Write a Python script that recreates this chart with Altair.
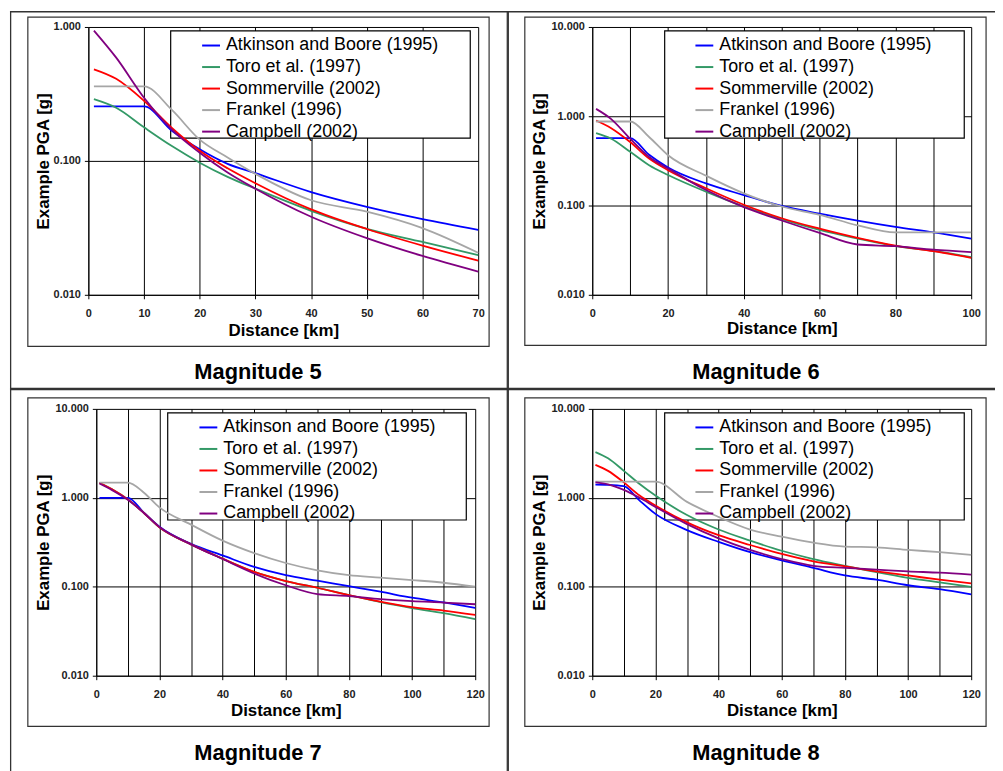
import altair as alt
import pandas as pd

FONT = "Liberation Sans"

SERIES = ["Atkinson and Boore (1995)", "Toro et al. (1997)", "Sommerville (2002)",
          "Frankel (1996)", "Campbell (2002)"]
COLORS = ["#0000FF", "#339966", "#FF0000", "#A6A6A6", "#800080"]

# ---------------- Magnitude 5 ----------------
M5_DIST = [1, 5, 10, 15, 20, 25, 30, 40, 50, 60, 70]
M5_ATKINSON = [0.255, 0.255, 0.255, 0.168, 0.122, 0.095, 0.081, 0.0585, 0.0454, 0.0368, 0.0306]
M5_TORO = [0.289, 0.249, 0.178, 0.129, 0.097, 0.076, 0.062, 0.0424, 0.0311, 0.0248, 0.0198]
M5_SOMMERVILLE = [0.483, 0.41, 0.281, 0.176, 0.119, 0.088, 0.068, 0.0434, 0.031, 0.0233, 0.018]
M5_FRANKEL = [0.36, 0.36, 0.36, 0.24, 0.144, 0.106, 0.080, 0.0508, 0.0418, 0.0315, 0.0206]
M5_CAMPBELL = [0.94, 0.59, 0.296, 0.171, 0.115, 0.082, 0.062, 0.0383, 0.0265, 0.0195, 0.0149]

# ---------------- Magnitude 6 ----------------
M6_DIST = [1, 5, 10, 15, 20, 30, 40, 50, 60, 70, 80, 90, 100]
M6_ATKINSON = [0.57, 0.57, 0.57, 0.37, 0.267, 0.177, 0.131, 0.099, 0.081, 0.0676, 0.0575, 0.050, 0.0426]
M6_TORO = [0.647, 0.56, 0.40, 0.283, 0.22, 0.143, 0.0975, 0.0705, 0.0534, 0.0427, 0.035, 0.031, 0.0264]
M6_SOMMERVILLE = [0.896, 0.735, 0.514, 0.336, 0.249, 0.156, 0.102, 0.072, 0.055, 0.0434, 0.0356, 0.0308, 0.026]
M6_FRANKEL = [0.873, 0.873, 0.873, 0.585, 0.366, 0.216, 0.137, 0.0975, 0.0787, 0.060, 0.050, 0.050, 0.050]
M6_CAMPBELL = [1.21, 0.93, 0.56, 0.35, 0.26, 0.149, 0.0958, 0.068, 0.0493, 0.0366, 0.035, 0.032, 0.030]

# ---------------- Magnitude 7 ----------------
M7_DIST = [1, 5, 10, 15, 20, 30, 40, 50, 60, 70, 80, 90, 100, 110, 120]
M7_ATKINSON = [1.0, 1.0, 1.0, 0.685, 0.475, 0.304, 0.225, 0.167, 0.135, 0.117, 0.1016, 0.088, 0.0753, 0.0668, 0.058]
M7_TORO = [1.48, 1.25, 0.96, 0.68, 0.465, 0.30, 0.207, 0.147, 0.116, 0.0975, 0.0807, 0.067, 0.0575, 0.0505, 0.0432]
M7_SOMMERVILLE = [1.48, 1.25, 0.96, 0.68, 0.465, 0.30, 0.207, 0.147, 0.116, 0.0975, 0.0807, 0.068, 0.0589, 0.054, 0.0483]
M7_FRANKEL = [1.48, 1.48, 1.48, 1.15, 0.78, 0.50, 0.33, 0.239, 0.185, 0.153, 0.135, 0.127, 0.119, 0.111, 0.100]
M7_CAMPBELL = [1.45, 1.22, 0.95, 0.68, 0.47, 0.30, 0.205, 0.141, 0.104, 0.0828, 0.0787, 0.0728, 0.069, 0.0665, 0.0636]

# ---------------- Magnitude 8 ----------------
M8_DIST = [1, 5, 10, 15, 20, 30, 40, 50, 60, 70, 80, 90, 100, 110, 120]
M8_ATKINSON = [1.41, 1.40, 1.35, 0.93, 0.66, 0.434, 0.32, 0.245, 0.198, 0.163, 0.134, 0.12, 0.104, 0.094, 0.082]
M8_TORO = [3.27, 2.78, 2.01, 1.43, 1.06, 0.64, 0.44, 0.33, 0.254, 0.205, 0.172, 0.146, 0.126, 0.112, 0.100]
M8_SOMMERVILLE = [2.35, 2.01, 1.49, 1.06, 0.82, 0.53, 0.38, 0.295, 0.234, 0.193, 0.17, 0.149, 0.134, 0.12, 0.109]
M8_FRANKEL = [1.52, 1.52, 1.52, 1.52, 1.52, 0.9, 0.61, 0.44, 0.366, 0.313, 0.283, 0.278, 0.26, 0.245, 0.229]
M8_CAMPBELL = [1.49, 1.42, 1.23, 1.0, 0.79, 0.506, 0.35, 0.26, 0.205, 0.172, 0.163, 0.156, 0.149, 0.144, 0.137]

TITLES = ["Magnitude 5", "Magnitude 6", "Magnitude 7", "Magnitude 8"]

# Layout in page pixels. origin = top-left of each panel's group, dx = where the
# plotting area starts inside that group. Table lines are thin filled rects.
GEOM = [
    dict(origin=(89, 24), dx=0, w=393, h=270, xmax=70, ymax=1, step=10,
         table=[(10, 8, 512, 9.3), (10, 8, 11.3, 389), (510.7, 8, 512, 389), (10, 387.7, 512, 389)],
         frame=(28, 14, 493, 346), lbox=(172, 28, 474, 136), sym=(202.7, 41.7),
         title=(260, 372), ytitle_x=44.3, xtitle_y=330),
    dict(origin=(597, 24), dx=0, w=382, h=270, xmax=100, ymax=10, step=20,
         table=[(512, 8, 1003, 9.3), (512, 8, 513, 389), (512, 387.7, 1003, 389)],
         frame=(529, 14, 994, 345), lbox=(670, 28, 972, 136), sym=(700, 41.7),
         title=(762, 372), ytitle_x=544.3, xtitle_y=328),
    dict(origin=(89, 409), dx=8, w=382, h=269, xmax=120, ymax=10, step=20,
         table=[(10, 389, 512, 390.3), (10, 389, 11.3, 780), (510.7, 389, 512, 780)],
         frame=(28, 398, 493, 729), lbox=(169, 413, 470, 521), sym=(200, 426.7),
         title=(260, 756), ytitle_x=44.3, xtitle_y=713),
    dict(origin=(597, 409), dx=0, w=382, h=269, xmax=120, ymax=10, step=20,
         table=[(512, 389, 1003, 390.3), (512, 389, 513, 780)],
         frame=(529, 398, 994, 729), lbox=(670, 413, 972, 521), sym=(700, 426.7),
         title=(762, 756), ytitle_x=544.3, xtitle_y=713),
]

DATA = [
    (M5_DIST, [M5_ATKINSON, M5_TORO, M5_SOMMERVILLE, M5_FRANKEL, M5_CAMPBELL]),
    (M6_DIST, [M6_ATKINSON, M6_TORO, M6_SOMMERVILLE, M6_FRANKEL, M6_CAMPBELL]),
    (M7_DIST, [M7_ATKINSON, M7_TORO, M7_SOMMERVILLE, M7_FRANKEL, M7_CAMPBELL]),
    (M8_DIST, [M8_ATKINSON, M8_TORO, M8_SOMMERVILLE, M8_FRANKEL, M8_CAMPBELL]),
]


def build_panel(dist, series_vals, g, title):
    ox, oy = g["origin"]
    dx = g["dx"]
    w, h = g["w"], g["h"]
    records = []
    for name, vals in zip(SERIES, series_vals):
        for d, v in zip(dist, vals):
            records.append({"Distance": d, "PGA": v, "Series": name})
    df = pd.DataFrame(records)
    one = pd.DataFrame({"k": [0]})

    def X(v):
        return alt.value(v - ox)

    def Y(v):
        return alt.value(v - oy)

    layers = []
    for (x1, y1, x2, y2) in g["table"]:
        layers.append(alt.Chart(one).mark_rect(fill="#333333", strokeWidth=0).encode(
            x=X(x1), x2=X(x2), y=Y(y1), y2=Y(y2)))
    fx1, fy1, fx2, fy2 = g["frame"]
    layers.append(alt.Chart(one).mark_rect(fillOpacity=0, stroke="#333333", strokeWidth=1.2).encode(
        x=X(fx1), x2=X(fx2), y=Y(fy1), y2=Y(fy2)))
    lx1, ly1, lx2, ly2 = g["lbox"]
    layers.append(alt.Chart(one).mark_rect(fill="white", stroke="black", strokeWidth=1.2).encode(
        x=X(lx1), x2=X(lx2), y=Y(ly1), y2=Y(ly2)))

    xvals = list(range(0, g["xmax"] + 1, 10))
    step = g["step"]
    xaxis = alt.Axis(
        values=xvals, grid=True, labelOverlap=False, labelPadding=9,
        labelExpr=f"datum.value % {step} === 0 ? datum.label : ''",
        tickOpacity={"condition": {"test": f"datum.value % {step} === 0", "value": 1}, "value": 0},
        titleX=dx + w / 2, titleY=g["xtitle_y"] - (oy + h), titleBaseline="middle", titleAlign="center",
    )
    yvals = [0.01, 0.1, 1] + ([10] if g["ymax"] == 10 else [])
    yaxis = alt.Axis(
        values=yvals, format=".3f", grid=True, labelPadding=4, offset=-dx,
        titleX=g["ytitle_x"] - (ox + dx), titleY=h / 2, titleAngle=270,
        titleBaseline="middle", titleAlign="center",
    )
    if dx:
        xscale = alt.Scale(domain=[0, g["xmax"]], range=[dx, dx + w], nice=False, zero=False)
    else:
        xscale = alt.Scale(domain=[0, g["xmax"]], nice=False, zero=False)
    sx, sy = g["sym"]
    legend = alt.Legend(
        orient="none", legendX=sx - ox, legendY=sy - oy - 9, direction="vertical",
        title=None, symbolType="stroke", symbolSize=324, symbolStrokeWidth=2,
        labelFont=FONT, labelFontSize=18, labelColor="black", labelLimit=400,
        labelOffset=5, rowPadding=2.7, padding=0, symbolOffset=0,
    )
    lines = alt.Chart(df).mark_line(strokeWidth=1.8, interpolate="monotone").encode(
        x=alt.X("Distance:Q", title="Distance [km]", scale=xscale, axis=xaxis),
        y=alt.Y("PGA:Q", title="Example PGA [g]",
                scale=alt.Scale(type="log", domain=[0.01, g["ymax"]], nice=False), axis=yaxis),
        color=alt.Color("Series:N", scale=alt.Scale(domain=SERIES, range=COLORS), legend=legend),
    )
    layers.append(lines)
    tx, ty = g["title"]
    layers.append(alt.Chart(one).mark_text(
        text=title, font=FONT, fontSize=22, fontWeight="bold", color="black",
        align="center", baseline="middle").encode(x=X(tx), y=Y(ty)))
    return alt.layer(*layers).properties(width=w + dx, height=h)


panels = [build_panel(d, s, g, t) for (d, s), g, t in zip(DATA, GEOM, TITLES)]

row1 = alt.hconcat(panels[0], panels[1], spacing=0).resolve_scale(color="independent").resolve_legend(color="independent")
row2 = alt.hconcat(panels[2], panels[3], spacing=0).resolve_scale(color="independent").resolve_legend(color="independent")

chart = (
    alt.vconcat(row1, row2, spacing=0)
    .resolve_scale(color="independent")
    .resolve_legend(color="independent")
    .properties(padding={"left": 2, "top": 0, "right": 0, "bottom": 0}, background="white")
    .configure_view(stroke=None, strokeWidth=0)
    .configure_axis(
        gridColor="black", gridWidth=1, gridOpacity=1,
        domainColor="black", domainWidth=1, tickColor="black", tickSize=4, tickWidth=1,
        labelFont=FONT, labelFontSize=11, labelFontWeight="bold", labelColor="#222222",
        labelFlush=False,
        titleFont=FONT, titleFontSize=17, titleFontWeight="bold", titleColor="black",
    )
)

chart.save("out.html", embed_options={"renderer": "svg", "actions": False})
